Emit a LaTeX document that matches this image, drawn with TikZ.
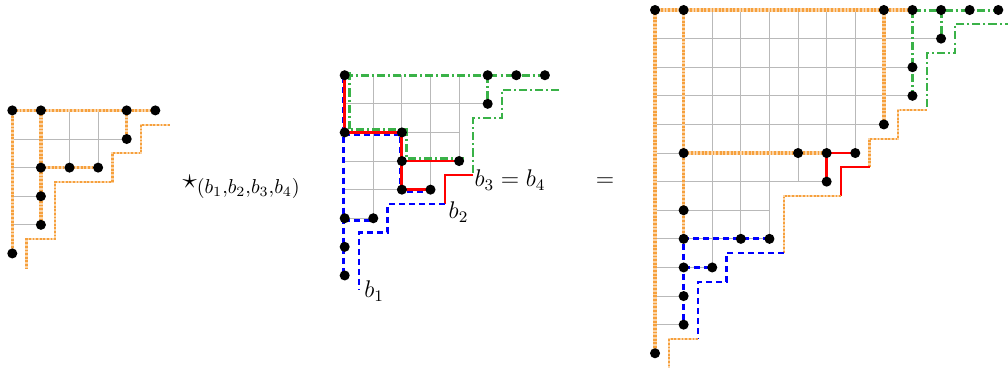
\documentclass[tikz,border=0pt]{standalone}
\usetikzlibrary{calc}

\definecolor{pathorange}{RGB}{246,160,60}
\definecolor{pathgreen}{RGB}{58,178,72}

\tikzset{
  gridline/.style={gray!55, line width=0.5pt},
  orangepath/.style={pathorange, line width=1.7pt, dash pattern=on 0.9pt off 0.9pt,
    preaction={draw, pathorange!45, solid, line width=1.7pt}},
  orangestair/.style={pathorange, line width=1.1pt, dash pattern=on 0.9pt off 0.9pt,
    preaction={draw, pathorange!45, solid, line width=1.1pt}},
  greenpath/.style={pathgreen, line width=1.5pt, dash pattern=on 4pt off 1.5pt on 1pt off 1.5pt},
  greenstair/.style={pathgreen, line width=1pt, dash pattern=on 4pt off 1.5pt on 1pt off 1.5pt},
  redpath/.style={red, line width=1.4pt},
  redstair/.style={red, line width=1.1pt},
  bluepath/.style={blue, line width=1.5pt, dash pattern=on 3pt off 2pt},
  bluestair/.style={blue, line width=1.1pt, dash pattern=on 3pt off 2pt},
  blabel/.style={font=\large},
}

\begin{document}
\begin{tikzpicture}[x=0.5cm, y=-0.5cm]
  \useasboundingbox (0,0) rectangle (35.24,12.94);

  % ---------- left factor ----------
  \begin{scope}[shift={(0.43,3.86)}]
    % grille
    \draw[gridline] (0,1) -- (4,1) (0,2) -- (3,2) (0,3) -- (1,3) (0,4) -- (1,4);
    \draw[gridline] (2,0) -- (2,2) (3,0) -- (3,2);
    % chemins
    \draw[orangepath] (5,0) -- (0,0) -- (0,5) (1,0) -- (1,4) (1,2) -- (3,2) (4,0) -- (4,1);
    % bord en escalier
    \draw[orangestair] (5.5,0.5) -| (4.5,1.5) -| (3.5,2.5) -| (1.5,4.5) -| (0.5,5.5);
    % points
    \foreach \p in {(0,0),(1,0),(4,0),(5,0),(4,1),(1,2),(2,2),(3,2),(1,3),(1,4),(0,5)}
      \fill \p circle (2.5pt);
  \end{scope}

  % operation
  \node (star) at (8.45,6.54) {\Large$\star_{(b_1,b_2,b_3,b_4)}$};

  % ---------- middle factor ----------
  \begin{scope}[shift={(12.05,2.63)}]
    % grille
    \draw[gridline] (0,1) -- (5,1) (0,2) -- (4,2) (0,3) -- (4,3) (0,4) -- (3,4) (0,5) -- (1,5);
    \draw[gridline] (1,0) -- (1,5) (2,0) -- (2,4) (3,0) -- (3,4) (4,0) -- (4,3);
    % chemins b1, b2, b3=b4
    \draw[bluepath, xshift=-0.6pt, yshift=-0.9pt] (0,0) -- (0,7) (0,2) -- (2,2) -- (2,4) -- (3,4) (0,5) -- (1,5);
    \draw[redpath] (0,0) -- (0,2) -- (2,2) -- (2,4) -- (3,4) (2,3) -- (4,3);
    \draw[greenpath] (0,0) -- (7,0) (5,0) -- (5,1);
    \draw[greenpath, xshift=2.2pt, yshift=1.4pt] (0,0) -- (0,2) -- (2,2) -- (2,3) -- (4,3);
    % bords en escalier
    \coordinate (bq) at (4.5,3.5);
    \coordinate (bp) at (3.5,4.5);
    \coordinate (bo) at (0.5,7.5);
    \draw[greenstair] (7.5,0.5) -| (5.5,1.5) -| (bq);
    \draw[redstair] (bq) -| (bp);
    \draw[bluestair] (bp) -| (1.5,5.5) -| (bo);
    % points
    \foreach \p in {(0,0),(5,0),(6,0),(7,0),(5,1),(0,2),(2,2),(2,3),(4,3),(2,4),(3,4),(0,5),(1,5),(0,6),(0,7)}
      \fill \p circle (2.5pt);
  \end{scope}

  % etiquettes
  \node[blabel] (lb1) at (13.08,10.17) {$b_1$};
  \node[blabel] (lb2) at (16.03,7.41) {$b_2$};
  \node[blabel] (lb34) at (17.83,6.29) {$b_3=b_4$};

  \node[font=\large] (eq) at (21.15,6.36) {$=$};

  % ---------- product ----------
  \begin{scope}[shift={(22.90,0.35)}]
    % grille
    \draw[gridline] (0,1) -- (10,1) (0,2) -- (9,2) (0,3) -- (9,3) (0,4) -- (8,4)
      (0,5) -- (7,5) (0,6) -- (6,6) (0,7) -- (4,7) (0,8) -- (4,8) (0,9) -- (2,9)
      (0,10) -- (1,10) (0,11) -- (1,11);
    \draw[gridline] (2,0) -- (2,9) (3,0) -- (3,8) (4,0) -- (4,8) (5,0) -- (5,6)
      (6,0) -- (6,6) (7,0) -- (7,5);
    % chemins
    \draw[orangepath] (9,0) -- (0,0) -- (0,12) (1,0) -- (1,8) (1,5) -- (6,5) (8,0) -- (8,4);
    \draw[greenpath] (9,0) -- (12,0) (9,0) -- (9,3) (10,0) -- (10,1);
    \draw[redpath] (7,5) -- (6,5) -- (6,6);
    \draw[bluepath] (4,8) -- (1,8) -- (1,11) (1,9) -- (2,9);
    % bord en escalier
    \draw[greenstair] (12.5,0.5) -| (10.5,1.5) -| (9.5,3.5);
    \draw[orangestair] (9.5,3.5) -| (8.5,4.5) -| (7.5,5.5);
    \draw[redstair] (7.5,5.5) -| (6.5,6.5);
    \draw[orangestair] (6.5,6.5) -| (4.5,8.5);
    \draw[bluestair] (4.5,8.5) -| (2.5,9.5) -| (1.5,11.5);
    \draw[orangestair] (1.5,11.5) -| (0.5,12.5);
    % points
    \foreach \p in {(0,0),(1,0),(8,0),(9,0),(10,0),(11,0),(12,0),(10,1),(9,2),(9,3),(8,4),
      (1,5),(5,5),(6,5),(7,5),(6,6),(1,7),(1,8),(3,8),(4,8),(1,9),(2,9),(1,10),(1,11),(0,12)}
      \fill \p circle (2.5pt);
  \end{scope}
\end{tikzpicture}
\end{document}
